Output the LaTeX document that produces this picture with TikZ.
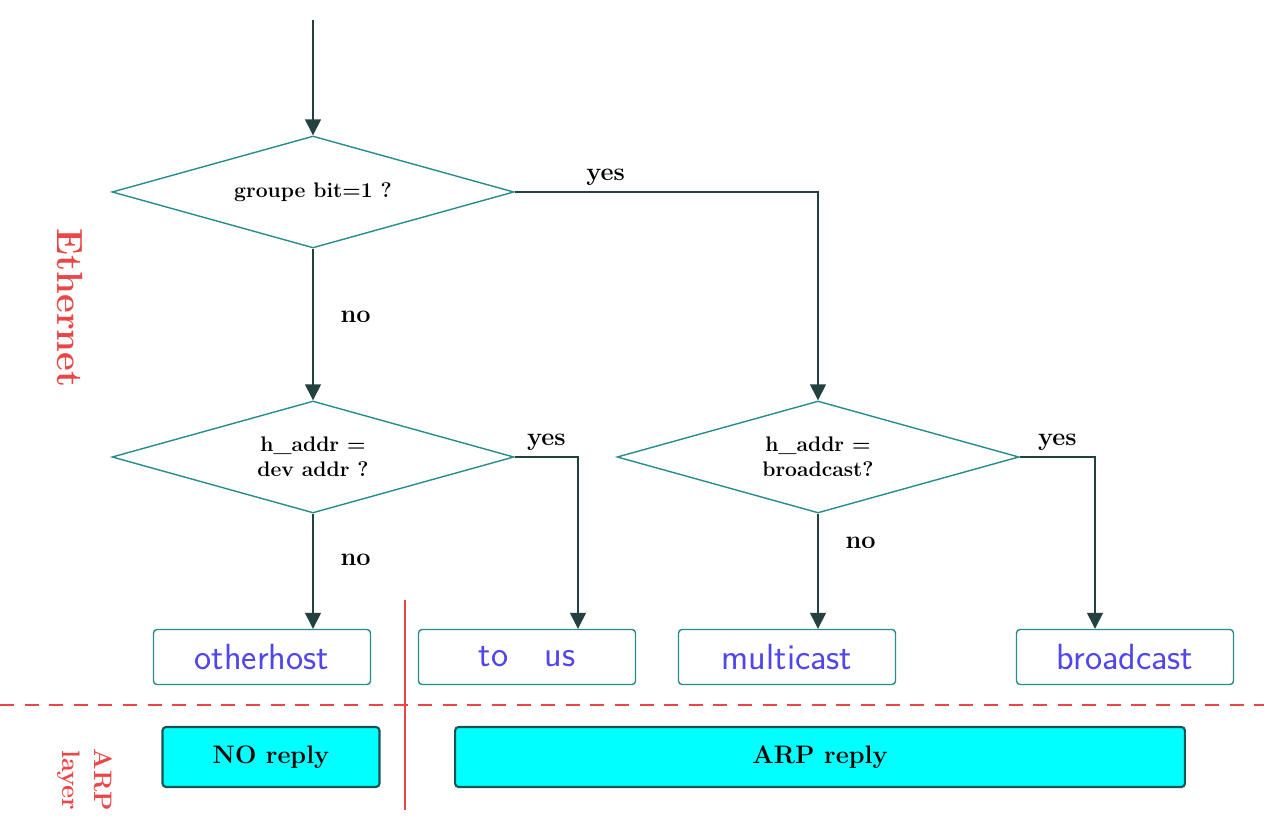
\documentclass[tikz,border=0pt]{standalone}
\usetikzlibrary{shapes.geometric,arrows.meta}
\definecolor{flowline}{RGB}{35,65,65}
\definecolor{flowedge}{RGB}{40,140,140}
\definecolor{labelblue}{RGB}{80,70,235}
\definecolor{layerred}{RGB}{235,70,70}
\definecolor{replycyan}{RGB}{0,255,255}

\begin{document}
\begin{tikzpicture}[x=0.02cm,y=-0.02cm,
  test/.style={diamond,aspect=3.5,draw=flowedge,thick,minimum width=8.04cm,minimum height=2.24cm,inner sep=0pt,font=\bfseries\large,align=center},
  kind/.style={draw=flowedge,thick,rounded corners=2pt,minimum width=4.34cm,minimum height=1.1cm,font=\sffamily\huge,text=labelblue},
  reply/.style={draw=flowedge!60!black,very thick,fill=replycyan,rounded corners=2pt,minimum height=1.2cm,font=\bfseries\Large},
  flow/.style={draw=flowline,thick,-{Triangle[width=9pt,length=9pt]}},
  answer/.style={font=\bfseries\Large}]

  \useasboundingbox (0,0) rectangle (1264,837);

  \coordinate (start) at (313,20);
  \node[test] (group) at (313,192) {groupe bit=1 ?};
  \node[test] (dev) at (313,457) {h\_addr =\\dev addr ?};
  \node[test] (bcast) at (818,457) {h\_addr =\\broadcast?};

  \node[kind] (other) at (262,657) {otherhost};
  \node[kind] (tous) at (527,657) {to\quad us};
  \node[kind] (multi) at (787,657) {multicast};
  \node[kind] (broad) at (1125,657) {broadcast};

  \node[reply,minimum width=4.34cm] (noreply) at (271,757) {NO reply};
  \node[reply,minimum width=14.6cm] (arpreply) at (820,757) {ARP reply};

  % decisions
  \draw[flow] (start) -- (group);
  \draw[flow] (group) -- node[answer,right=12pt,pos=0.45]{no} (dev);
  \draw[flow] (group.east) -| node[answer,pos=0.15,above]{yes} (bcast.north);
  \draw[flow] (dev.south) -- node[answer,right=12pt,pos=0.4]{no} (dev.south |- other.north);
  \draw[flow] (dev.east) -| node[answer,pos=0.25,above]{yes} ([xshift=1.02cm]tous.north);
  \draw[flow] (bcast.south) -- node[answer,right=12pt,pos=0.25]{no} (bcast.south |- multi.north);
  \draw[flow] (bcast.east) -| node[answer,pos=0.25,above]{yes} ([xshift=-0.6cm]broad.north);

  % layers
  \draw[layerred,thick,dash pattern=on 8pt off 6pt] (0,705) -- (1264,705);
  \draw[layerred,thick] (405,600) -- (405,810);
  \node[rotate=-90,text=layerred,font=\bfseries\huge] (ethlabel) at (70,308) {Ethernet};
  \node[rotate=-90,text=layerred,font=\bfseries\Large,align=center,inner sep=0pt] (arplabel) at (85,780) {ARP\\layer};

\end{tikzpicture}
\end{document}
